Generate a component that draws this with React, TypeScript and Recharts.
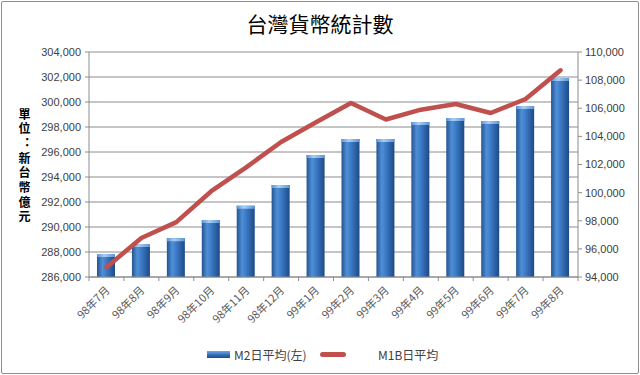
import {
  Bar,
  CartesianGrid,
  ComposedChart,
  Line,
  XAxis,
  YAxis,
} from "recharts"

const months = [
  "98年7月", "98年8月", "98年9月", "98年10月", "98年11月", "98年12月", "99年1月",
  "99年2月", "99年3月", "99年4月", "99年5月", "99年6月", "99年7月", "99年8月",
]
// M2 daily average (left axis), 新台幣億元
const m2 = [
  287840, 288640, 289100, 290560, 291700, 293360, 295760,
  297040, 297040, 298400, 298720, 298480, 299680, 301920,
]
// M1B daily average (right axis)
const m1b = [
  94700, 96770, 97900, 100100, 101800, 103600, 105000,
  106370, 105200, 105900, 106300, 105660, 106660, 108700,
]
const leftTicks = [286000, 288000, 290000, 292000, 294000, 296000, 298000, 300000, 302000, 304000]
const rightTicks = [94000, 96000, 98000, 100000, 102000, 104000, 106000, 108000, 110000]
const yLabel = "單位：新台幣億元"

const data = months.map((m, i) => ({ month: m, m2: m2[i], m1b: m1b[i] }))

const fmt = (n: number) => n.toLocaleString("en-US")
const font = "'Liberation Sans', Arial, sans-serif"
const cjk = "'Noto Sans CJK TC', 'Noto Sans CJK SC', sans-serif"

function BarShape(props: any) {
  const { x, y, width, height } = props
  if (!height || height <= 0) return null
  return (
    <g>
      <rect x={x} y={y} width={width} height={height} fill="url(#barFill)" />
      <rect x={x} y={y} width={width} height={3} fill="url(#capFill)" />
    </g>
  )
}

function MonthTick(props: any) {
  const { x, y, payload, index } = props
  const half = payload.offset ?? 0
  return (
    <g>
      <line x1={x - half} x2={x - half} y1={y - 8} y2={y - 4} stroke="#8c8c8c" />
      {index === months.length - 1 && (
        <line x1={x + half} x2={x + half} y1={y - 8} y2={y - 4} stroke="#8c8c8c" />
      )}
      <text
        x={x + 4}
        y={y + 6}
        transform={`rotate(-45 ${x + 4} ${y + 6})`}
        textAnchor="end"
        fontSize={11}
        fontFamily={cjk}
        fill="#595959"
      >
        {payload.value}
      </text>
    </g>
  )
}

function ChartLegend() {
  return (
    <div
      style={{
        position: "absolute",
        left: 0,
        top: 345,
        width: 640,
        height: 20,
        fontFamily: cjk,
        fontSize: 12,
        color: "#404040",
      }}
    >
      <div
        style={{
          position: "absolute",
          left: 207,
          top: 6,
          width: 23,
          height: 7,
          background: "linear-gradient(#6fa8e8, #2f69b3 60%, #1f4e8c)",
        }}
      />
      <span style={{ position: "absolute", left: 234, top: 1 }}>M2日平均(左)</span>
      <div
        style={{
          position: "absolute",
          left: 320,
          top: 7,
          width: 26,
          height: 5,
          borderRadius: 3,
          background: "#c0504d",
        }}
      />
      <span style={{ position: "absolute", left: 378, top: 1 }}>M1B日平均</span>
    </div>
  )
}

export default function App() {
  return (
    <div
      style={{
        position: "fixed",
        left: 0,
        top: 0,
        width: 640,
        height: 375,
        background: "#fff",
      }}
    >
      <div
        style={{
          position: "absolute",
          left: 1,
          top: 1,
          width: 636,
          height: 371,
          border: "1px solid #8f8f8f",
          borderRadius: 2,
        }}
      />
      <div
        style={{
          position: "absolute",
          top: 8,
          width: 640,
          textAlign: "center",
          fontFamily: cjk,
          fontSize: 21,
          color: "#000",
        }}
      >
        台灣貨幣統計數
      </div>
      {/* vertical axis title, one text run set top-to-bottom */}
      <div
        style={{
          position: "absolute",
          left: 15,
          top: 108,
          writingMode: "vertical-rl",
          textOrientation: "upright",
          fontFeatureSettings: '"vert" 0, "vrt2" 0',
          fontFamily: cjk,
          fontWeight: 700,
          fontSize: 12,
          letterSpacing: "2.7px",
          lineHeight: "18px",
          color: "#000",
        }}
      >
        {yLabel}
      </div>
      <ComposedChart
        width={640}
        height={375}
        data={data}
        margin={{ top: 52, right: 0, bottom: 38, left: 0 }}
        barSize={18}
      >
        <defs>
          <linearGradient id="barFill" x1="0" y1="0" x2="1" y2="0">
            <stop offset="0%" stopColor="#24548f" />
            <stop offset="30%" stopColor="#4f8fd8" />
            <stop offset="55%" stopColor="#3a78c4" />
            <stop offset="100%" stopColor="#1d4a84" />
          </linearGradient>
          <linearGradient id="capFill" x1="0" y1="0" x2="1" y2="0">
            <stop offset="0%" stopColor="#5d96d6" />
            <stop offset="40%" stopColor="#a9cdf4" />
            <stop offset="100%" stopColor="#5d96d6" />
          </linearGradient>
        </defs>
        <CartesianGrid vertical={false} stroke="#8c8c8c" yAxisId="left" />
        <XAxis
          dataKey="month"
          height={60}
          interval={0}
          tick={<MonthTick />}
          tickLine={false}
          axisLine={{ stroke: "#8c8c8c" }}
        />
        <YAxis
          yAxisId="left"
          width={89}
          domain={[286000, 304000]}
          ticks={leftTicks}
          tickFormatter={fmt}
          tick={{ fill: "#404040", fontSize: 11, fontFamily: font }}
          tickSize={4}
          tickMargin={4}
          tickLine={{ stroke: "#8c8c8c" }}
          axisLine={{ stroke: "#8c8c8c" }}
          allowDataOverflow
        />
        <YAxis
          yAxisId="right"
          orientation="right"
          width={62}
          domain={[94000, 110000]}
          ticks={rightTicks}
          tickFormatter={fmt}
          tick={{ fill: "#404040", fontSize: 11, fontFamily: font }}
          tickSize={4}
          tickMargin={3}
          tickLine={{ stroke: "#8c8c8c" }}
          axisLine={{ stroke: "#8c8c8c" }}
          allowDataOverflow
        />
        <Bar
          yAxisId="left"
          dataKey="m2"
          name="M2日平均(左)"
          shape={<BarShape />}
          isAnimationActive={false}
        />
        <Line
          yAxisId="right"
          dataKey="m1b"
          name="M1B日平均"
          type="linear"
          stroke="#c0504d"
          strokeWidth={4.5}
          strokeLinejoin="round"
          strokeLinecap="round"
          dot={false}
          activeDot={false}
          isAnimationActive={false}
        />
      </ComposedChart>
      <ChartLegend />
    </div>
  )
}
